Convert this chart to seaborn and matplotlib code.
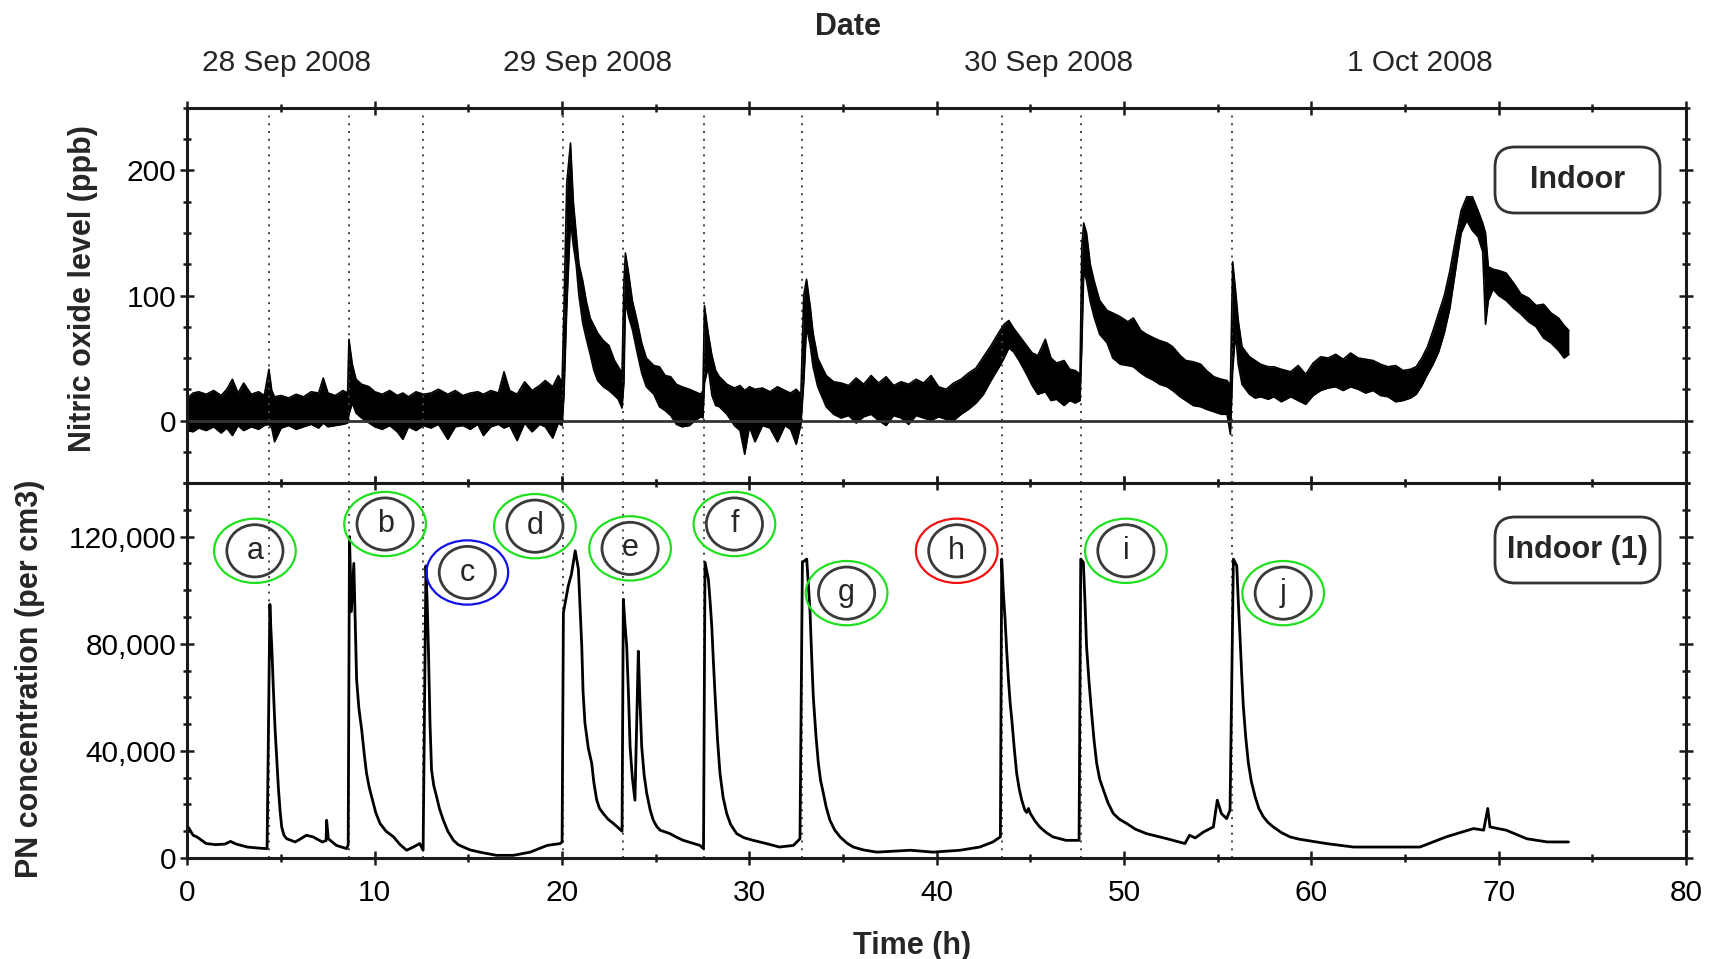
import numpy as np
import pandas as pd
import matplotlib
matplotlib.use('Agg')
import matplotlib.pyplot as plt
import seaborn as sns
from matplotlib.patches import Ellipse, FancyBboxPatch
from matplotlib.ticker import MultipleLocator, FuncFormatter

# --- Nitric oxide (ppb): noisy trace, read as lower / upper edge of the band
no_time = [0.0, 0.3, 0.6, 1.0, 1.4, 1.8, 2.1, 2.4, 2.7, 3.0, 3.4, 3.8, 4.1, 4.35, 4.5, 4.65,
           5.0, 5.4, 5.8, 6.2, 6.6, 7.0, 7.25, 7.5, 7.9, 8.3, 8.55, 8.62, 8.8, 9.0, 9.3, 9.7,
           10.0, 10.4, 10.8, 11.2, 11.5, 11.8, 12.2, 12.6, 13.0, 13.4, 13.9, 14.3, 14.7, 15.1,
           15.5, 15.8, 16.2, 16.6, 16.9, 17.2, 17.6, 18.0, 18.4, 18.8, 19.1, 19.5, 19.8, 20.0,
           20.1, 20.25, 20.45, 20.6, 20.75, 20.9, 21.1, 21.3, 21.5, 21.7, 21.9, 22.2, 22.5,
           22.8, 23.0, 23.2, 23.3, 23.38, 23.55, 23.75, 24.0, 24.25, 24.5, 24.9, 25.2, 25.5,
           25.8, 26.1, 26.4, 26.8, 27.1, 27.4, 27.52, 27.6, 27.8, 28.0, 28.2, 28.4, 28.8, 29.2,
           29.5, 29.75, 30.0, 30.3, 30.7, 31.1, 31.5, 31.9, 32.2, 32.5, 32.75, 32.9, 33.05,
           33.25, 33.4, 33.65, 33.9, 34.1, 34.5, 34.9, 35.3, 35.7, 36.1, 36.5, 36.9, 37.3, 37.7,
           38.1, 38.5, 38.9, 39.3, 39.7, 40.1, 40.5, 40.9, 41.3, 41.7, 42.1, 42.5, 42.9, 43.3,
           43.6, 43.85, 44.1, 44.4, 44.8, 45.1, 45.4, 45.8, 46.1, 46.4, 46.8, 47.1, 47.4, 47.65,
           47.75, 47.85, 48.0, 48.2, 48.4, 48.7, 49.1, 49.4, 49.8, 50.2, 50.5, 50.9, 51.2, 51.6,
           51.9, 52.3, 52.6, 53.0, 53.3, 53.7, 54.1, 54.4, 54.8, 55.2, 55.5, 55.68, 55.8, 55.95,
           56.1, 56.3, 56.7, 57.0, 57.3, 57.7, 58.0, 58.4, 58.9, 59.3, 59.7, 60.1, 60.5, 60.9,
           61.3, 61.7, 62.1, 62.5, 62.9, 63.3, 63.7, 64.1, 64.5, 64.9, 65.3, 65.6, 65.9, 66.2,
           66.5, 66.8, 67.1, 67.4, 67.7, 68.0, 68.3, 68.6, 68.9, 69.15, 69.3, 69.45, 69.7, 70.0,
           70.4, 70.8, 71.2, 71.6, 72.0, 72.4, 72.8, 73.2, 73.5, 73.75]
no_low = [-8, -9, -6, -8, -5, -10, -6, -12, -4, -8, -5, -7, -4, -3, -6, -17,
          -6, -4, -7, -5, -3, -6, -2, -5, -4, -3, -2, 5, 14, 6, 2, -2,
          -5, -7, -4, -9, -15, -5, -8, -4, -6, -3, -15, -5, -4, -7,
          -3, -12, -5, -3, -6, -4, -16, -2, -9, -3, -5, -14, -2, -4,
          20, 90, 160, 140, 125, 100, 78, 65, 53, 40, 32, 27, 24,
          20, 17, 10, 30, 95, 83, 73, 55, 38, 27, 21, 11, 8,
          4, -3, -5, -4, 0, 3, 2, 30, 43, 20, 12, 11, 5, -4,
          -8, -27, -5, -17, -4, -6, -17, -4, -7, -19, -3, 30, 75,
          60, 43, 27, 18, 11, 5, 2, 4, -2, 3, 5, 0, -4, 4,
          2, -3, 4, 2, 0, 3, 1, 0, 5, 9, 14, 21, 32, 42,
          50, 58, 55, 48, 37, 28, 21, 23, 16, 17, 12, 16, 14, 16,
          60, 120, 112, 95, 83, 69, 62, 50, 45, 44, 43, 38, 35, 32,
          29, 27, 24, 19, 16, 12, 11, 9, 7, 5, 5, -11, 40, 70,
          45, 29, 21, 18, 19, 17, 19, 15, 19, 16, 13, 20, 24, 26,
          27, 24, 27, 25, 22, 24, 20, 19, 15, 16, 18, 21, 28, 37,
          45, 55, 70, 90, 120, 150, 160, 152, 147, 135, 77, 96, 105, 100,
          96, 90, 85, 79, 75, 66, 62, 56, 50, 53]
no_high = [18, 22, 23, 21, 24, 20, 25, 33, 22, 30, 21, 23, 20, 41, 24, 19,
           20, 18, 21, 19, 23, 22, 34, 22, 20, 24, 22, 65, 45, 33, 29, 27,
           23, 21, 24, 20, 22, 19, 23, 21, 22, 25, 21, 24, 20, 22,
           23, 21, 24, 22, 39, 24, 21, 31, 24, 28, 32, 27, 36, 30,
           90, 190, 222, 175, 150, 125, 112, 95, 82, 76, 70, 64, 60,
           48, 43, 38, 110, 134, 118, 96, 80, 62, 50, 44, 43, 36,
           35, 29, 27, 25, 23, 21, 24, 92, 70, 52, 40, 35, 29, 26,
           28, 24, 27, 25, 26, 23, 27, 24, 22, 25, 21, 100, 113,
           91, 70, 50, 42, 36, 31, 30, 28, 34, 29, 36, 30, 35, 28,
           31, 29, 33, 30, 36, 27, 25, 30, 33, 38, 42, 51, 60, 70,
           77, 80, 74, 68, 60, 54, 52, 65, 50, 46, 48, 41, 40, 37,
           140, 158, 150, 125, 112, 96, 88, 86, 83, 79, 82, 72, 69, 66,
           64, 62, 59, 52, 48, 47, 45, 40, 35, 33, 32, 28, 127, 105,
           80, 59, 51, 48, 45, 43, 43, 41, 39, 44, 37, 46, 51, 50,
           53, 49, 54, 50, 49, 48, 45, 43, 44, 40, 41, 43, 50, 59,
           72, 86, 100, 120, 145, 168, 179, 179, 168, 158, 150, 123, 121, 120,
           118, 110, 101, 98, 92, 93, 86, 82, 76, 72]

# --- Particle number concentration (per cm3)
pn_time = [0.0, 0.3, 0.5, 1.0, 1.5, 2.0, 2.3, 2.6, 3.2, 3.8, 4.25,
           4.4, 4.45, 4.5, 4.58, 4.67, 4.76, 4.85, 4.94, 5.03, 5.15, 5.3, 5.75, 6.0, 6.35,
           6.7, 7.2, 7.4, 7.43, 7.52, 7.95, 8.5, 8.58,
           8.65, 8.75, 8.88, 8.95, 9.03, 9.15, 9.3, 9.45, 9.56, 9.7, 9.83, 10.05, 10.28, 10.6,
           11.0, 11.35, 11.7, 12.06, 12.4, 12.58,
           12.73, 12.8, 12.86, 12.95, 13.03, 13.15, 13.3, 13.45, 13.66, 13.9, 14.2, 14.45,
           14.73, 15.1, 15.6, 16.5, 17.4, 18.3, 19.2, 19.9, 20.0,
           20.07, 20.33, 20.5, 20.7, 20.87, 20.95, 21.05, 21.12, 21.22, 21.4, 21.58, 21.7,
           21.85, 22.0, 22.2, 22.45, 22.74, 23.0, 23.2,
           23.27, 23.35, 23.45, 23.55, 23.63, 23.75, 23.89, 24.07, 24.15, 24.25, 24.38, 24.52,
           24.7, 24.87, 25.05, 25.23, 25.76, 26.1, 26.47, 27.36, 27.55,
           27.63, 27.81, 27.9, 27.99, 28.08, 28.17, 28.3, 28.43, 28.6, 28.79, 29.0, 29.32,
           29.7, 30.2, 30.9, 31.6, 32.35, 32.7,
           32.83, 33.06, 33.15, 33.24, 33.32, 33.41, 33.55, 33.68, 33.8, 33.95, 34.1, 34.3,
           34.55, 34.84, 35.2, 35.55, 36.1, 36.8, 38.6, 39.8, 41.25, 42.3, 43.0, 43.4,
           43.47, 43.55, 43.65, 43.74, 43.83, 43.92, 44.01, 44.14, 44.27, 44.4, 44.54, 44.7,
           44.8, 44.9, 45.0, 45.25, 45.5, 45.85, 46.2, 46.9, 47.6,
           47.69, 47.83, 47.92, 48.0, 48.13, 48.27, 48.4, 48.54, 48.7, 48.9, 49.15, 49.43,
           49.75, 50.14, 50.6, 51.2, 52.3, 53.25, 53.5, 53.8, 54.24, 54.77, 54.98, 55.2,
           55.48, 55.66,
           55.84, 56.02, 56.1, 56.2, 56.28, 56.37, 56.5, 56.64, 56.8, 57.0, 57.2, 57.44, 57.7,
           57.97, 58.4, 58.86, 59.3, 59.75, 60.8, 62.25, 64.0, 65.8, 67.2, 68.66, 69.2,
           69.42, 69.54, 70.4, 71.5, 72.6, 73.73]
pn_value = [12000, 8500, 7900, 5400, 5000, 5200, 6200, 5200, 4100, 3700, 3500,
            94700, 86000, 79000, 64000, 49000, 38000, 26600, 17900, 11600, 8500, 7200, 6000,
            7000, 8500, 7900, 6000, 6500, 14100, 7200, 4700, 3500, 5000,
            120000, 92000, 110000, 90000, 66600, 56000, 47900, 38000, 31600, 26500, 22900,
            17000, 12900, 10000, 7900, 5000, 2900, 4100, 5400, 2900,
            109100, 95000, 79000, 50000, 32900, 27000, 22900, 18500, 14100, 10000, 6600, 5000,
            4100, 3000, 2200, 1000, 1000, 2200, 4700, 5400, 6000,
            91600, 101600, 106000, 114700, 107900, 95000, 79100, 62000, 50400, 41000, 35400,
            28000, 21600, 18500, 16600, 14500, 12900, 11300, 10000,
            96600, 88000, 79100, 60000, 41600, 30000, 21600, 77200, 60000, 41600, 31000, 24100,
            18000, 14100, 11800, 10400, 9100, 7800, 6600, 4700, 3500,
            110400, 104100, 96000, 86600, 73000, 60400, 44000, 31600, 22500, 16600, 12500, 9100,
            7600, 6600, 5400, 4100, 4700, 7200,
            110400, 111600, 102000, 91600, 76000, 60400, 46000, 35400, 29000, 24100, 19000,
            14100, 10500, 7900, 5600, 4100, 3000, 2200, 2900, 2200, 2900, 4100, 6000, 7900,
            111600, 100000, 89100, 77000, 66600, 58000, 51600, 41000, 31600, 26000, 21600,
            18000, 17000, 18500, 16600, 13800, 11600, 9500, 7900, 6600, 6600,
            111600, 110400, 95000, 79100, 66000, 54100, 44000, 35400, 29500, 25400, 20500,
            16600, 14500, 12900, 10800, 9100, 7200, 5400, 8500, 7500, 9700, 11600, 21600,
            16600, 14700, 17900,
            111600, 109100, 96000, 81600, 69000, 56600, 45000, 35400, 28500, 22900, 18500,
            15400, 13200, 11600, 9500, 7900, 7100, 6600, 5400, 4100, 4100, 4100, 7900, 11000,
            10400, 18500, 11600, 10400, 7200, 6000, 6000]

# --- cooking events (dotted lines) and labelled circles
event_hours = [4.35, 8.6, 12.6, 20.05, 23.25, 27.55, 32.8, 43.5, 47.7, 55.75]
event_letters = ['a', 'b', 'c', 'd', 'e', 'f', 'g', 'h', 'i', 'j']
letter_x = [3.6, 10.55, 14.94, 18.55, 23.63, 29.2, 35.19, 41.07, 50.1, 58.5]
letter_y = [114700, 124700, 106600, 123900, 115600, 124700, 98900, 114700, 114700, 98900]
letter_colors = ['#1fe01f', '#1fe01f', '#1010e8', '#1fe01f', '#1fe01f', '#1fe01f',
                 '#1fe01f', '#f01010', '#1fe01f', '#1fe01f']

date_hours = [5.26, 21.36, 45.96, 65.8]
date_labels = ['28 Sep 2008', '29 Sep 2008', '30 Sep 2008', '1 Oct 2008']

no_df = pd.DataFrame({'time': no_time, 'low': no_low, 'high': no_high})
pn_df = pd.DataFrame({'time': pn_time, 'pn': pn_value})

sns.set_style('ticks')
plt.rcParams['font.family'] = ['Liberation Sans', 'DejaVu Sans']
plt.rcParams['axes.linewidth'] = 2.2
plt.rcParams['axes.edgecolor'] = '#1a1a1a'

FS = 21.5
fig = plt.figure(figsize=(17.09, 9.59), dpi=100)
ax1 = fig.add_axes([0.1097, 0.4963, 0.8768, 0.3911])
ax2 = fig.add_axes([0.1097, 0.1053, 0.8768, 0.3910])

# top panel: NO band
ax1.fill_between(no_df['time'], no_df['low'], no_df['high'], color='black', lw=0)
sns.lineplot(data=no_df, x='time', y='low', ax=ax1, color='black', lw=1.2,
             estimator=None, sort=False)
sns.lineplot(data=no_df, x='time', y='high', ax=ax1, color='black', lw=1.2,
             estimator=None, sort=False)
ax1.axhline(0, color='#333333', lw=2)
ax1.set_xlim(0, 80)
ax1.set_ylim(-50, 250)
ax1.yaxis.set_major_locator(MultipleLocator(100))
ax1.yaxis.set_minor_locator(MultipleLocator(25))

# bottom panel: PN line
sns.lineplot(data=pn_df, x='time', y='pn', ax=ax2, color='black', lw=2.0,
             estimator=None, sort=False)
ax2.set_xlim(0, 80)
ax2.set_ylim(0, 140000)
ax2.yaxis.set_major_locator(MultipleLocator(40000))
ax2.yaxis.set_minor_locator(MultipleLocator(10000))
ax2.yaxis.set_major_formatter(FuncFormatter(lambda v, p: f'{int(v):,}'))

for ax in (ax1, ax2):
    for h in event_hours:
        ax.axvline(h, color='#444444', lw=1.4, ls=(0, (1, 3)), zorder=1)
    ax.xaxis.set_major_locator(MultipleLocator(10))
    ax.xaxis.set_minor_locator(MultipleLocator(5))
    ax.tick_params(which='both', direction='inout', top=True, right=True,
                   labelsize=FS, colors='#1a1a1a', labelcolor='black', width=1.8)
    ax.tick_params(which='major', length=10)
    ax.tick_params(which='minor', length=6)
    ax.tick_params(axis='y', pad=3)
    ax.set_xlabel('')
    ax.set_ylabel('')

ax1.tick_params(axis='x', labelbottom=False)
ax2.tick_params(axis='x', pad=10)

# date axis on top
sec = ax1.secondary_xaxis('top')
sec.set_xticks(date_hours, labels=date_labels)
sec.tick_params(length=0, pad=22, labelsize=FS)
sec.spines['top'].set_visible(False)

# circled event letters
for lx, ly, letter, col in zip(letter_x, letter_y, event_letters, letter_colors):
    ax2.add_patch(Ellipse((lx, ly), 4.36, 24000, fill=False, ec=col, lw=1.6, zorder=4))
    ax2.add_patch(Ellipse((lx, ly), 3.0, 19500, fill=False, ec='#3a3a3a', lw=2.0, zorder=4))
    ax2.text(lx, ly, letter, ha='center', va='center', fontsize=22, zorder=5)

# rounded boxes with panel names
for y0, label in [(7.46, 'Indoor'), (3.76, 'Indoor (1)')]:
    box = FancyBboxPatch((14.95, y0), 1.65, 0.66, boxstyle='round,pad=0,rounding_size=0.2',
                         transform=fig.dpi_scale_trans, fc='white', ec='#333333', lw=2.0)
    fig.add_artist(box)
    fig.text(15.775, y0 + 0.33, label, transform=fig.dpi_scale_trans, ha='center',
             va='center', fontsize=22, fontweight='bold')

fig.text(0.0486, 0.6986, 'Nitric oxide level (ppb)', rotation=90, ha='center',
         va='center', fontsize=22, fontweight='bold')
fig.text(0.0176, 0.2925, 'PN concentration (per cm3)', rotation=90, ha='center',
         va='center', fontsize=22, fontweight='bold')
fig.text(0.5337, 0.0135, 'Time (h)', ha='center', va='center', fontsize=22, fontweight='bold')
fig.text(0.4962, 0.972, 'Date', ha='center', va='center', fontsize=22, fontweight='bold')

fig.savefig('out.png', dpi=100, facecolor='white')
